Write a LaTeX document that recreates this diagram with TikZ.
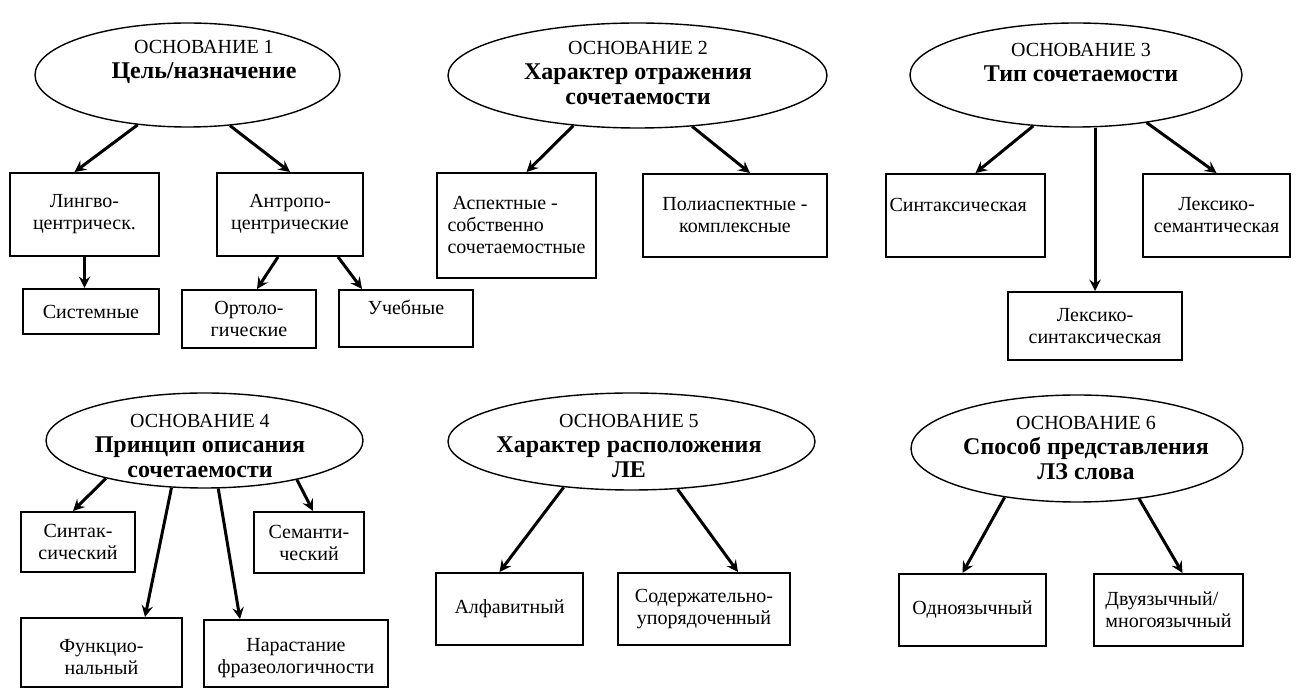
\documentclass[tikz,border=0pt]{standalone}
\usepackage{fontspec}
\setmainfont{Liberation Serif}
\usetikzlibrary{shapes.geometric}

\newcommand{\zag}[1]{{\fontsize{12}{12.5}\selectfont\bfseries #1}}

\tikzset{
	osn/.style={ellipse, draw, line width=0.7pt, inner sep=0pt},
	osntxt/.style={align=center, inner sep=0pt, font=\fontsize{10}{12.5}\selectfont},
	vid/.style={draw, line width=1pt, align=center, inner sep=0pt, font=\fontsize{10}{11}\selectfont},
	arr/.style={->, line width=1.5pt}
}

\begin{document}
\begin{tikzpicture}[x=0.5pt, y=-0.5pt, >=stealth]
	\useasboundingbox (0,0) rectangle (1298,689);
	
	% основание 1
	\node[osn, minimum width=152.5pt, minimum height=52pt] (e1) at (187.5,75) {};
	\node[osntxt] (e1t) at (204,62) {ОСНОВАНИЕ 1\\ \zag{Цель/назначение}};
	\node[vid, minimum width=74.5pt, minimum height=41.5pt] (lingvo) at (84.5,214.5) {Лингво-\\центрическ.};
	\node[vid, minimum width=73pt, minimum height=41.5pt] (antro) at (290,214.5) {Антропо-\\центрические};
	\node[vid, minimum width=68pt, minimum height=22.5pt] (sistem) at (91,311.5) {Системные};
	\node[vid, minimum width=67pt, minimum height=29pt] (orto) at (249,319) {Ортоло-\\гические};
	\node[vid, minimum width=67pt, minimum height=28.5pt] (ucheb) at (406,318.5) {Учебные\\ \mbox{}};
	\draw[arr] (e1.225) -- ([xshift=-5pt]lingvo.north);
	\draw[arr] (e1.310) -- (antro.north);
	\draw[arr] (lingvo.south) -- (lingvo.south |- sistem.north);
	\draw[arr] ([xshift=-6pt]antro.south) -- ([xshift=4pt]orto.north);
	\draw[arr] ([xshift=24pt]antro.south) -- ([xshift=-22pt]ucheb.north);
	
	% основание 2
	\node[osn, minimum width=189.5pt, minimum height=52.5pt] (e2) at (637.5,75.5) {};
	\node[osntxt] (e2t) at (638,73) {ОСНОВАНИЕ 2\\ \zag{Характер отражения}\\ \zag{сочетаемости}};
	\node[vid, align=left, minimum width=79.5pt, minimum height=52.5pt] (asp) at (516.5,225.5) {\ Аспектные -\\собственно\\сочетаемостные};
	\node[vid, minimum width=92pt, minimum height=41.5pt] (poli) at (735,215.5) {Полиаспектные -\\комплексные};
	\draw[arr] (e2.218) -- ([xshift=5pt]asp.north);
	\draw[arr] (e2.317) -- ([xshift=7.5pt]poli.north);
	
	% основание 3
	\node[osn, minimum width=166pt, minimum height=52pt] (e3) at (1076,75) {};
	\node[osntxt] (e3t) at (1081,63) {ОСНОВАНИЕ 3\\ \zag{Тип сочетаемости}};
	\node[vid, align=left, text width=76pt, minimum width=79.5pt, minimum height=41.5pt] (sint) at (965.5,215.5) {Синтаксическая\\ \mbox{}};
	\node[vid, minimum width=73.5pt, minimum height=41.5pt] (lsem) at (1216.5,215.5) {Лексико-\\семантическая};
	\node[vid, minimum width=87pt, minimum height=34pt] (lsint) at (1095,326) {Лексико-\\синтаксическая};
	\draw[arr] (e3.230) -- ([xshift=5pt]sint.north);
	\draw[arr] (e3.south -| lsint.north) -- (lsint.north);
	\draw[arr] (e3.326) -- (lsem.north);
	
	% основание 4
	\node[osn, minimum width=158.5pt, minimum height=47.5pt] (e4) at (204.5,440.5) {};
	\node[osntxt] (e4t) at (200,446) {ОСНОВАНИЕ 4\\ \zag{Принцип описания}\\ \zag{сочетаемости}};
	\node[vid, minimum width=57pt, minimum height=30pt] (sintak) at (78,542) {Синтак-\\сический};
	\node[vid, minimum width=55pt, minimum height=30.5pt] (semant) at (309,542.5) {Семанти-\\ческий};
	\node[vid, minimum width=80.5pt, minimum height=34.5pt] (funk) at (101.5,652.5) {\mbox{}\\Функцио-\\нальный};
	\node[vid, minimum width=92pt, minimum height=33.5pt] (narast) at (296,653.5) {\mbox{}\\Нарастание\\фразеологичности};
	\draw[arr] (e4.201) -- ([xshift=-2.5pt]sintak.north);
	\draw[arr] (e4.235) -- ([xshift=21.75pt]funk.north);
	\draw[arr] (e4.286) -- ([xshift=-28pt]narast.north);
	\draw[arr] (e4.337) -- ([xshift=2pt]semant.north);
	
	% основание 5
	\node[osn, minimum width=183.5pt, minimum height=48.5pt] (e5) at (631.5,441.5) {};
	\node[osntxt] (e5t) at (629,446) {ОСНОВАНИЕ 5\\ \zag{Характер расположения}\\ \zag{ЛЕ}};
	\node[vid, minimum width=73.5pt, minimum height=36pt] (alf) at (509.5,609) {Алфавитный};
	\node[vid, minimum width=86pt, minimum height=36pt] (soder) at (704,609) {Содержательно-\\упорядоченный};
	\draw[arr] (e5.214) -- ([xshift=-5pt]alf.north);
	\draw[arr] (e5.314) -- ([xshift=17pt]soder.north);
	
	% основание 6
	\node[osn, minimum width=166pt, minimum height=53.5pt] (e6) at (1077,448.5) {};
	\node[osntxt] (e6t) at (1086,448) {ОСНОВАНИЕ 6\\ \zag{Способ представления}\\ \zag{ЛЗ слова}};
	\node[vid, minimum width=73.5pt, minimum height=36pt] (odno) at (972.5,610) {Одноязычный};
	\node[vid, align=left, minimum width=74.5pt, minimum height=36pt] (dvu) at (1168.5,610) {Двуязычный/\\многоязычный};
	\draw[arr] (e6.214) -- ([xshift=-5pt]odno.north);
	\draw[arr] (e6.321) -- ([xshift=7pt]dvu.north);
\end{tikzpicture}
\end{document}
